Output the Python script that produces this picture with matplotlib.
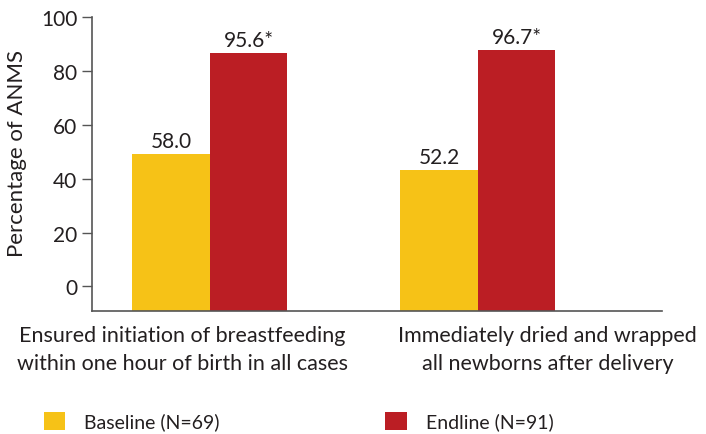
import matplotlib.pyplot as plt
import numpy as np

plt.rcParams['font.family'] = ['Lato', 'DejaVu Sans']

# Data
categories = ['Ensured initiation of breastfeeding\nwithin one hour of birth in all cases',
              'Immediately dried and wrapped\nall newborns after delivery']
baseline = [58.0, 52.2]
endline = [95.6, 96.7]
baseline_labels = ['58.0', '52.2']
endline_labels = ['95.6*', '96.7*']
series_names = ['Baseline (N=69)', 'Endline (N=91)']
yticks = [0, 20, 40, 60, 80, 100]

yellow = '#F6C217'
red = '#BB1E24'
text_col = '#231F20'
axis_col = '#555555'

if __name__ == '__main__':
    fig = plt.figure(figsize=(7.06, 4.35), dpi=100)
    ax = fig.add_axes([0.13, 0.2834, 0.807, 0.675])

    x = np.arange(len(categories))
    w = 0.289
    base = -9
    b1 = ax.bar(x - w / 2, baseline, w, bottom=base, color=yellow, label=series_names[0])
    b2 = ax.bar(x + w / 2, endline, w, bottom=base, color=red, label=series_names[1])

    for bars, labs in ((b1, baseline_labels), (b2, endline_labels)):
        for r, lab in zip(bars, labs):
            ax.text(r.get_x() + r.get_width() / 2, r.get_y() + r.get_height() + 1.2, lab,
                    ha='center', va='bottom', fontsize=15, color=text_col)

    ax.set_xlim(-0.44, 1.685)
    ax.set_ylim(base, 100)
    ax.set_yticks(yticks)
    ax.tick_params(axis='y', length=7, width=1, color=axis_col, pad=3.5,
                   labelsize=15, labelcolor=text_col)
    # category labels sit a bit off the group centres
    ax.set_xticks(x + np.array([-0.103, 0.261]))
    ax.set_xticklabels(categories, fontsize=15.5, color=text_col, linespacing=1.5)
    ax.tick_params(axis='x', length=0, pad=10.5)

    for s in ['top', 'right']:
        ax.spines[s].set_visible(False)
    for s in ['left', 'bottom']:
        ax.spines[s].set_color(axis_col)
        ax.spines[s].set_linewidth(1.2)
    ax.spines['left'].set_bounds(base, 100)

    fig.text(17 / 706, 1 - 154 / 435, 'Percentage of ANMS', rotation=90,
             ha='center', va='center', fontsize=16, color=text_col)

    fig.legend(handles=[b1, b2], labels=series_names, loc='center',
               bbox_to_anchor=(0.423, 1 - 422 / 435), ncol=2, frameon=False,
               fontsize=14, handlelength=1.1, handleheight=1.1, handletextpad=1.0,
               columnspacing=8.5, labelcolor=text_col, borderpad=0.2)

    plt.savefig('out.png')
    plt.close()
